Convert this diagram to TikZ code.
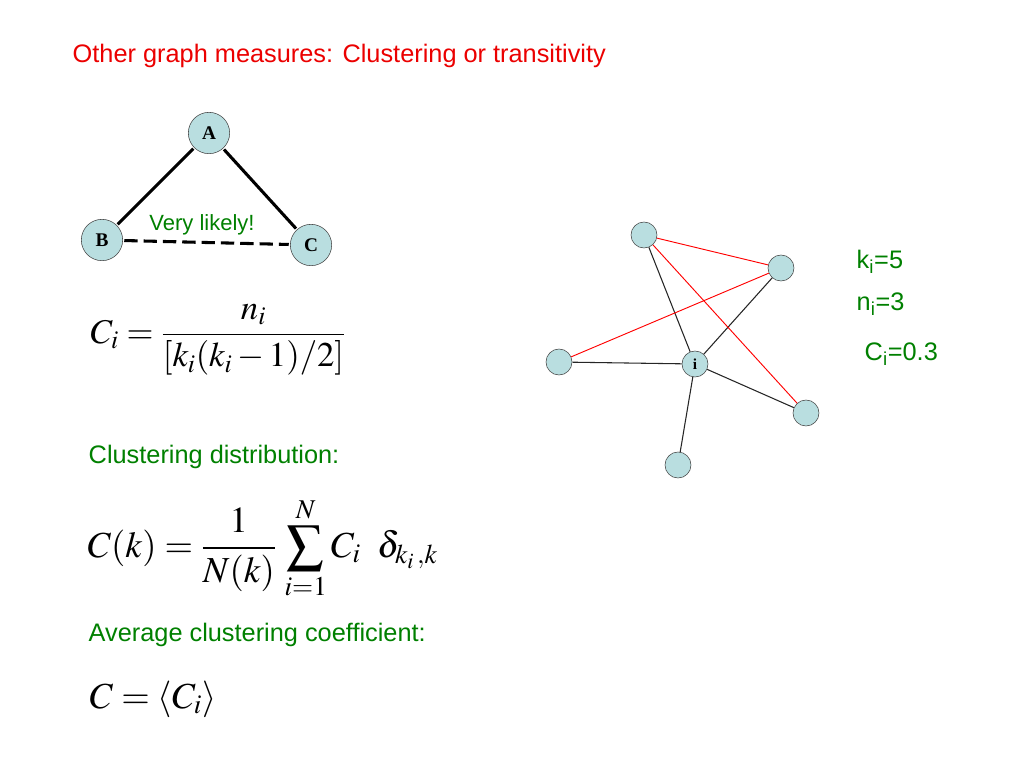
\documentclass[tikz,border=0pt]{standalone}
\usepackage{mathptmx}
\usepackage[no-math]{fontspec}
\setmainfont{Liberation Sans}
\newfontfamily\timesfont{Liberation Serif}
\definecolor{nodefill}{RGB}{185,222,224}
\definecolor{textgreen}{RGB}{0,128,0}
\definecolor{textred}{RGB}{235,0,0}
\tikzset{
  vertex/.style={circle, draw=black!75, fill=nodefill, inner sep=0pt,
    minimum size=19.5pt, font=\timesfont\bfseries\fontsize{11.5}{13}\selectfont},
  bigvertex/.style={vertex, minimum size=31pt,
    font=\timesfont\bfseries\fontsize{14.5}{16}\selectfont},
  tie/.style={line width=2.3pt, shorten <=1pt, shorten >=1pt},
  link/.style={black!85, line width=0.8pt},
  redlink/.style={red, line width=0.7pt},
  greentext/.style={textgreen, anchor=west, font=\fontsize{19}{22}\selectfont},
  formula/.style={anchor=west, font=\fontsize{26}{30}\selectfont}
}

\begin{document}
\begin{tikzpicture}[x=0.75pt, y=-0.75pt]
    \useasboundingbox (0,0) rectangle (1024,768) ;

    \node[textred, anchor=west, font=\fontsize{19}{22}\selectfont] (title) at (68,56)
    {Other graph measures: Clustering or transitivity} ;

    % triangle
    \node[bigvertex] (A) at (209,133) {A} ;
    \node[bigvertex] (B) at (102,240) {B} ;
    \node[bigvertex] (C) at (311,245) {C} ;
    \draw[tie] (A) -- (B) ;
    \draw[tie] (A) -- (C) ;
    \draw[tie, dash pattern=on 10pt off 4.5pt] (B) -- (C) ;
    \node[textgreen, font=\fontsize{16.5}{19}\selectfont] (likely) at (202,225) {Very likely!} ;

    % formulas
    \node[formula] (ci) at (86,340) {$\displaystyle C_i=\frac{\;n_i\;}{[k_i(k_i-1)/2]}$} ;
    \node[greentext] (dist) at (84,457) {Clustering distribution:} ;
    \node[formula, font=\fontsize{27.5}{32}\selectfont] (ck) at (83,548)
    {$\displaystyle C(k)=\frac{\;1\;}{N(k)}\,\sum_{i=1}^{N}C_i\;\;\delta_{k_i\,,k}$} ;
    \node[greentext] (avg) at (84,635) {Average clustering coefficient:} ;
    \node[formula, font=\fontsize{27.5}{32}\selectfont] (cavg) at (85,699) {$C=\langle C_i\rangle$} ;

    % example graph
    \node[vertex] (top) at (644,235) {} ;
    \node[vertex] (rtop) at (781,268) {} ;
    \node[vertex] (left) at (559,362) {} ;
    \node[vertex] (i) at (695,364) {i} ;
    \node[vertex] (rbot) at (806,413) {} ;
    \node[vertex] (bot) at (678,465) {} ;
    \foreach \n in {top, rtop, left, rbot, bot} {
      \draw[link] (i) -- (\n) ;
    } ;
    \foreach \a/\b in {top/rtop, top/rbot, left/rtop} {
      \draw[redlink] (\a) -- (\b) ;
    } ;

    \node[greentext] (ki) at (852,262) {k\textsubscript{i}=5} ;
    \node[greentext] (ni) at (852,304) {n\textsubscript{i}=3} ;
    \node[greentext] (cival) at (860,354) {C\textsubscript{i}=0.3} ;
\end{tikzpicture}
\end{document}
